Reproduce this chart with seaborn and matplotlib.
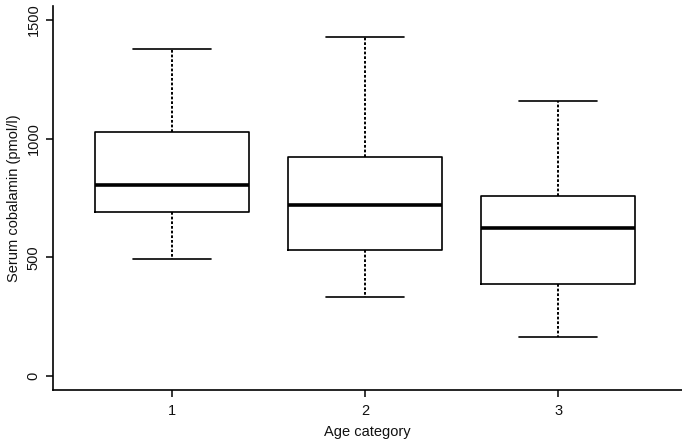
import pandas as pd
import seaborn as sns
from matplotlib import pyplot as plt

# five-number summaries (min, q1, median, q3, max)
categories = ["1", "2", "3"]
cat1 = [493, 690, 803, 1027, 1378]
cat2 = [333, 531, 719, 923, 1427]
cat3 = [163, 389, 623, 757, 1159]

rows = []
for cat, vals in zip(categories, [cat1, cat2, cat3]):
    for v in vals:
        rows.append({"Age category": cat, "Serum cobalamin (pmol/l)": v})
df = pd.DataFrame(rows)

sns.set_theme(style="ticks")
plt.rcParams["font.family"] = ["Liberation Sans", "DejaVu Sans"]

fig = plt.figure(figsize=(6.82, 4.45), dpi=100)
ax = fig.add_axes([53 / 682, 55 / 445, 1 - 53 / 682, 384 / 445])

sns.boxplot(
    data=df,
    x="Age category",
    y="Serum cobalamin (pmol/l)",
    order=categories,
    whis=(0, 100),
    width=0.8,
    fill=False,
    color="black",
    linewidth=1.2,
    medianprops=dict(linewidth=2.6, color="black"),
    whiskerprops=dict(linestyle=(0, (1.4, 1.0)), linewidth=1.4),
    capprops=dict(linewidth=1.2),
    ax=ax,
)

ax.set_xlim(-0.617, 2.642)
ax.set_ylim(-59, 1559)
ax.set_yticks([0, 500, 1000, 1500])
sns.despine(ax=ax)
for side in ("left", "bottom"):
    ax.spines[side].set_linewidth(1.2)
    ax.spines[side].set_color("black")

ax.tick_params(axis="both", length=5, width=1.1, color="black", labelsize=10.5, labelcolor="#111111")
ax.tick_params(axis="y", pad=4)
ax.tick_params(axis="x", pad=5)
plt.setp(ax.get_yticklabels(), rotation=90, va="center")

ax.set_xlabel("Age category", fontsize=10.5, color="#111111", labelpad=5)
ax.set_ylabel("Serum cobalamin (pmol/l)", fontsize=10.5, color="#111111", labelpad=4)

fig.savefig("out.png", dpi=100)
